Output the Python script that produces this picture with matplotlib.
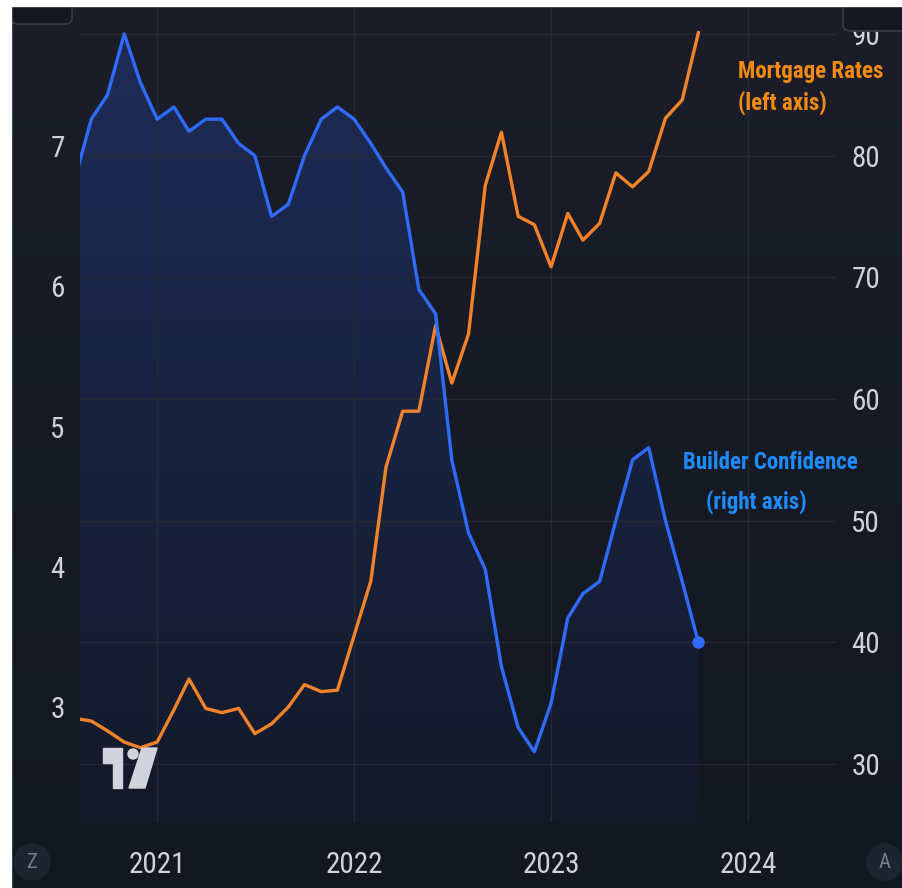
import matplotlib
matplotlib.use('Agg')
import matplotlib.pyplot as plt
import matplotlib.dates as mdates
import matplotlib.patches as patches
from matplotlib.colors import LinearSegmentedColormap, to_rgb
import numpy as np
import pandas as pd

plt.rcParams['font.family'] = ['Roboto Condensed', 'Liberation Sans', 'DejaVu Sans']

# monthly values, Aug 2020 - Oct 2023
months = pd.date_range('2020-08-01', '2023-10-01', freq='MS')
builder_confidence = [78, 83, 85, 90, 86,
                      83, 84, 82, 83, 83, 81, 80, 75, 76, 80, 83, 84,
                      83, 81, 79, 77, 69, 67, 55, 49, 46, 38, 33, 31,
                      35, 42, 44, 45, 50, 55, 56, 50, 45, 40]
mortgage_rates = [2.92, 2.90, 2.83, 2.75, 2.71,
                  2.75, 2.98, 3.20, 2.99, 2.96, 2.99, 2.81, 2.88, 3.00, 3.16, 3.11, 3.12,
                  3.51, 3.90, 4.71, 5.11, 5.11, 5.72, 5.31, 5.66, 6.72, 7.10, 6.50, 6.44,
                  6.14, 6.52, 6.33, 6.45, 6.81, 6.71, 6.82, 7.20, 7.33, 7.81]

years = [2021, 2022, 2023, 2024]
left_ticks = [3, 4, 5, 6, 7]
right_ticks = [30, 40, 50, 60, 70, 80, 90]

W, H = 903, 888
fig = plt.figure(figsize=(W / 100, H / 100), dpi=100, facecolor='white')


def fx(x):
    return x / W


def fy(y):
    return 1 - y / H


# dark chart panel with a slight vertical gradient
bg = fig.add_axes([fx(11), 0, 1 - fx(11), fy(6)])
bg.imshow(np.linspace(0, 1, 256)[:, None], aspect='auto', extent=[0, 1, 0, 1],
          cmap=LinearSegmentedColormap.from_list('bg', ['#1b1e29', '#131722']))
bg.axis('off')

ax = fig.add_axes([fx(80), fy(822), fx(836) - fx(80), fy(6) - fy(822)])
ax.patch.set_visible(False)
axm = ax.twinx()   # mortgage rates, left scale
axb = ax.twinx()   # builder confidence line on top

b_lim = (25.23, 92.3)
m_lim = (2.18, 8.0)

# gradient area under builder confidence
xn = mdates.date2num(months)
area = ax.fill_between(months, builder_confidence, b_lim[0], facecolor='none', edgecolor='none')
grad = np.zeros((256, 1, 4))
grad[..., :3] = to_rgb('#2962ff')
grad[:, 0, 3] = np.linspace(0.22, 0.03, 256)
img = ax.imshow(grad, aspect='auto', zorder=1,
                extent=[xn[0], xn[-1], b_lim[0], max(builder_confidence)])
img.set_clip_path(area.get_paths()[0], ax.transData)

axm.plot(months, mortgage_rates, color='#f2832a', lw=2.4, zorder=3)
axb.plot(months, builder_confidence, color='#2f6bff', lw=2.4, zorder=3)
axb.plot(months[-1], builder_confidence[-1], 'o', color='#2f6bff', ms=8, zorder=4)

ax.set_xlim(pd.Timestamp('2020-08-11'), pd.Timestamp('2024-06-12'))
ax.set_ylim(*b_lim)
axm.set_ylim(*m_lim)
axb.set_ylim(*b_lim)

label_color = '#cfd2da'
ax.set_xticks([pd.Timestamp(f'{y}-01-01') for y in years])
ax.set_xticklabels([str(y) for y in years])
ax.set_yticks(right_ticks)
ax.yaxis.tick_right()
ax.grid(True, color='#252935', lw=1)
ax.tick_params(axis='both', length=0, labelcolor=label_color, labelsize=21)
ax.tick_params(axis='y', pad=11)
ax.tick_params(axis='x', pad=21)

axm.yaxis.tick_left()
axm.set_yticks(left_ticks)
axm.tick_params(axis='y', length=0, labelcolor=label_color, labelsize=21, pad=11)
axb.set_yticks([])

for a in (ax, axm, axb):
    for s in a.spines.values():
        s.set_visible(False)

# series labels
orange_txt, blue_txt = '#f58a10', '#1e8bff'
fig.text(fx(738), fy(78), 'Mortgage Rates', color=orange_txt, fontsize=16.5, fontweight='bold')
fig.text(fx(738), fy(110), '(left axis)', color=orange_txt, fontsize=16.5, fontweight='bold')
fig.text(fx(683), fy(469), 'Builder Confidence', color=blue_txt, fontsize=16.5, fontweight='bold')
fig.text(fx(706), fy(509), '(right axis)', color=blue_txt, fontsize=16.5, fontweight='bold')

# watermark logo
tv = '#d1d4dc'
fig.add_artist(patches.Polygon([(fx(x), fy(y)) for x, y in
                                [(103, 748), (122, 748), (122, 788), (113, 788), (113, 763), (103, 763)]],
                               transform=fig.transFigure, color=tv, zorder=5))
fig.add_artist(patches.Polygon([(fx(x), fy(y)) for x, y in
                                [(142, 748), (157, 748), (145, 788), (129, 788)]],
                               transform=fig.transFigure, color=tv, zorder=5))
fig.add_artist(patches.Ellipse((fx(133), fy(754)), 10 / W, 10 / H,
                               transform=fig.transFigure, color=tv, zorder=5))

# corner widgets
for x, y, w, h in [(11, -10, 61, 34), (843, -10, 70, 41)]:
    fig.add_artist(patches.FancyBboxPatch((fx(x), fy(y + h)), w / W, h / H,
                                          boxstyle='round,pad=0,rounding_size=0.008',
                                          transform=fig.transFigure, facecolor='#141722',
                                          edgecolor='#363a45', lw=1.3, zorder=6))
for x, ch in [(32, 'Z'), (885, 'A')]:
    fig.add_artist(patches.Ellipse((fx(x), fy(862)), 36 / W, 36 / H,
                                   transform=fig.transFigure, color='#1f2330', zorder=6))
    fig.text(fx(x), fy(862), ch, color='#7b7f8c', fontsize=15, ha='center', va='center', zorder=7)

# white margins
fig.add_artist(patches.Rectangle((0, fy(6)), 1, 1 - fy(6), transform=fig.transFigure,
                                 color='white', zorder=10))
fig.add_artist(patches.Rectangle((0, 0), fx(11), 1, transform=fig.transFigure,
                                 color='white', zorder=10))

fig.savefig('out.png', dpi=100, facecolor='white')
